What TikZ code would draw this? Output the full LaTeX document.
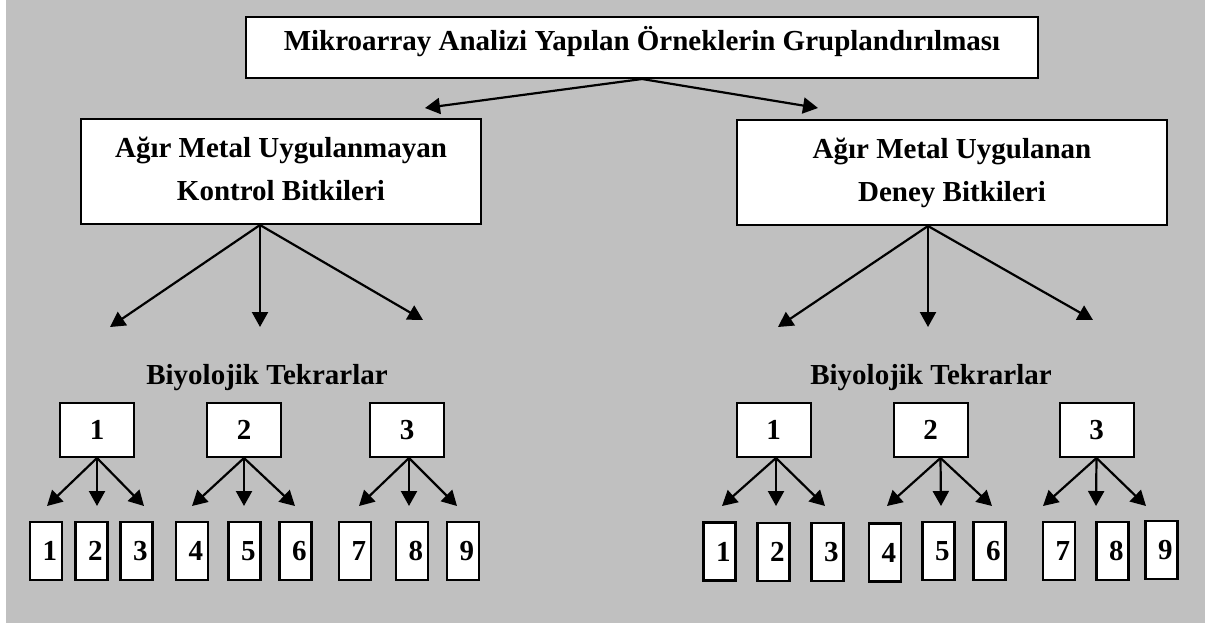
\documentclass[tikz,border=0pt]{standalone}
\usepackage{fontspec}
\setmainfont{Liberation Serif}
\usepackage{xcolor}
\usetikzlibrary{arrows.meta,positioning}
\definecolor{panelgray}{RGB}{192,192,192}
\tikzset{
  box/.style={draw=black,fill=white,line width=1pt,align=center,inner sep=2pt},
  groupbox/.style={box,minimum width=37pt,minimum height=27pt},
  leafbox/.style={draw=black,fill=white,line width=1.1pt,text width=11pt,align=right,inner xsep=2.5pt,inner ysep=2pt,minimum height=29pt},
  arr/.style={-{Triangle[length=7.5pt,width=8pt]},line width=1.1pt}
}

\begin{document}
\begin{tikzpicture}[x=0.5pt,y=-0.5pt,font=\fontsize{14.5}{21.5}\selectfont\bfseries]
  \useasboundingbox (0,0) rectangle (1216,623);
  \fill[panelgray] (6,0) rectangle (1205,623);

  % top level
  \node[box,minimum width=396pt,minimum height=30.5pt,text height=8pt,text depth=5.5pt] (title) at (642,47.5)
    {Mikroarray Analizi Yapılan Örneklerin Gruplandırılması};
  \node[box,minimum width=200pt,minimum height=52.5pt,text depth=3pt] (kontrol) at (281,171.5)
    {Ağır Metal Uygulanmayan\\Kontrol Bitkileri};
  \node[box,minimum width=215pt,minimum height=52.5pt,text depth=3pt] (deney) at (952,172.5)
    {Ağır Metal Uygulanan\\Deney Bitkileri};

  \coordinate (tL) at (425,108);
  \coordinate (tR) at (818,108);
  \draw[arr] (title.south) -- (tL);
  \draw[arr] (title.south) -- (tR);

  % arrows down to the replicates
  \foreach \n/\dx/\xa/\xb/\xc/\ya/\yc in {kontrol/-10.5/110/260/423/327/320,deney/-12/778/928/1093/327/320}{
    \coordinate (\n-a) at (\xa,\ya);
    \coordinate (\n-b) at (\xb,327);
    \coordinate (\n-c) at (\xc,\yc);
    \foreach \e in {a,b,c}
      \draw[arr] ([xshift=\dx pt]\n.south) -- (\n-\e);
  }

  \node (repK) at (267,378) {Biyolojik Tekrarlar};
  \node (repD) at (931,378) {Biyolojik Tekrarlar};

  % biological replicates
  \foreach \n/\x/\lab in {gK1/97/1,gK2/244/2,gK3/407/3,gD1/773.5/1,gD2/930.5/2,gD3/1096.5/3}{
    \node[groupbox] (\n) at (\x,430) {\lab};
  }

  \foreach \n/\dx/\xa/\xb/\xc in {gK1/0/47/97/144,gK2/0/192/244/295,gK3/1/359/409/457,
                                  gD1/1.25/722/776/825,gD2/5/887/941/992,gD3/0/1043/1096/1146}{
    \coordinate (\n-a) at (\xa,506);
    \coordinate (\n-b) at (\xb,506);
    \coordinate (\n-c) at (\xc,506);
    \foreach \e in {a,b,c}
      \draw[arr] ([xshift=\dx pt]\n.south) -- (\n-\e);
  }

  % samples
  \foreach \n/\x/\y/\lab in {lK1/46/551/1,lK2/91.5/551/2,lK3/136.5/551/3,
                             lK4/192/551/4,lK5/244.5/551/5,lK6/295.5/551/6,
                             lK7/355/551/7,lK8/412/551/8,lK9/463/551/9,
                             lD1/719.5/551.5/1,lD2/773.5/552/2,lD3/827.5/552/3,
                             lD4/885/552.5/4,lD5/938.5/551/5,lD6/989.5/551/6,
                             lD7/1059/551/7,lD8/1112.5/551/8,lD9/1161.5/550/9}{
    \node[leafbox] (\n) at (\x,\y) {\lab};
  }
\end{tikzpicture}
\end{document}
